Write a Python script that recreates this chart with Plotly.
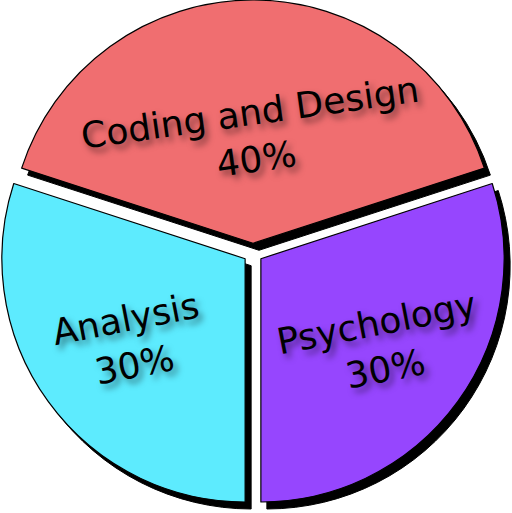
import math
import plotly.graph_objects as go

labels = ["Coding and Design", "Psychology", "Analysis"]
values = [40, 30, 30]
colors = ["#F06E70", "#9646FE", "#5DEBFE"]

W, H = 512, 513
sx, sy = 6 / W, 7 / H
pull = 0.04
rotation = 288  # first slice starts 72 deg left of 12 o'clock

fig = go.Figure()
# drop shadow pie
fig.add_trace(go.Pie(
    labels=labels, values=values, sort=False, direction="clockwise",
    rotation=rotation, pull=pull,
    marker=dict(colors=["#000000"] * 3, line=dict(color="#000000", width=1)),
    textinfo="none", hoverinfo="skip", showlegend=False,
    domain=dict(x=[sx, 1], y=[0, 1 - sy]),
))
# main pie
fig.add_trace(go.Pie(
    labels=labels, values=values, sort=False, direction="clockwise",
    rotation=rotation, pull=pull,
    marker=dict(colors=colors, line=dict(color="#000000", width=1.2)),
    textinfo="none", showlegend=False,
    domain=dict(x=[0, 1 - sx], y=[sy, 1]),
))

# labels placed from slice mid-angles derived from the data
total = sum(values)
cx, cy = (1 - sx) / 2, (sy + 1) / 2
R = min((1 - sx) * W, (1 - sy) * H) / 2 / (1 + pull)
start = 90 + (360 - rotation)
radial_frac = [0.44, 0.61, 0.585]
angles_txt = [-8, -11, -11]
acc = 0
for lab, v, fr, ta in zip(labels, values, radial_frac, angles_txt):
    mid = start - (acc + v / 2) / total * 360
    acc += v
    d = (fr + pull) * R
    x = cx + d * math.cos(math.radians(mid)) / W
    y = cy + d * math.sin(math.radians(mid)) / H
    fig.add_annotation(
        x=x, y=y, xref="paper", yref="paper", showarrow=False,
        xanchor="center", yanchor="middle",
        text=f"{lab}<br>{round(v / total * 100)}%", textangle=ta,
        font=dict(family="DejaVu Sans", size=36, color="#000000",
                  shadow="3px 5px 6px rgba(0,0,0,0.5)"),
    )

fig.update_layout(
    width=W, height=H, margin=dict(l=0, r=0, t=0, b=0),
    paper_bgcolor="white", plot_bgcolor="white",
)
fig.write_html("out.html")
